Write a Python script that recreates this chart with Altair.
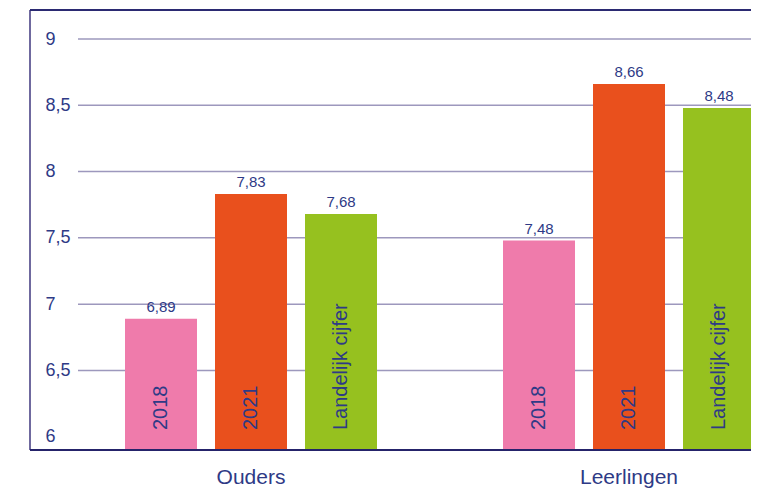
import altair as alt
import pandas as pd

groups = ["Ouders", "Ouders", "Ouders", "Leerlingen", "Leerlingen", "Leerlingen"]
series = ["2018", "2021", "Landelijk cijfer", "2018", "2021", "Landelijk cijfer"]
values = [6.89, 7.83, 7.68, 7.48, 8.66, 8.48]
group_order = ["Ouders", "Leerlingen"]
series_order = ["2018", "2021", "Landelijk cijfer"]
series_colors = ["#ef7bab", "#e9501d", "#96c11f"]
y_ticks = [6, 6.5, 7, 7.5, 8, 8.5, 9]
grid_values = [6.5, 7, 7.5, 8, 8.5, 9]

df = pd.DataFrame({"group": groups, "series": series, "value": values})
grid_df = pd.DataFrame({"g": grid_values})

W, H = 673, 411
NAVY = "#2e3a86"
FONT = "Liberation Sans"

x_enc = alt.X("group:N", sort=group_order,
              scale=alt.Scale(range=[-16, 740], paddingInner=0, paddingOuter=0),
              axis=alt.Axis(title=None, domain=False, ticks=False, labelAngle=0,
                            labelFontSize=21, labelColor=NAVY, labelFont=FONT,
                            labelPadding=16, labelOverlap=False, grid=False))
xo_enc = alt.XOffset("series:N", sort=series_order,
                     scale=alt.Scale(paddingInner=0.2, paddingOuter=0.7))
y_scale = alt.Scale(domain=[5.9, 9], nice=False, zero=False)

base = alt.Chart(df)

grid = alt.Chart(grid_df).mark_rule(color="#9d98bd", strokeWidth=1.5).encode(
    y=alt.Y("g:Q", scale=y_scale),
    x=alt.value(0), x2=alt.value(W),
)

bars = base.mark_bar(clip=True).encode(
    x=x_enc,
    xOffset=xo_enc,
    y=alt.Y("value:Q", scale=y_scale,
            axis=alt.Axis(title=None, values=y_ticks, domain=False, ticks=False, tickSize=0,
                          labelAlign="left", labelPadding=33, labelFontSize=18,
                          labelColor=NAVY, labelFont=FONT,
                          labelExpr="replace(format(datum.value, '~g'), '.', ',')",
                          grid=False)),
    color=alt.Color("series:N", sort=series_order,
                    scale=alt.Scale(domain=series_order, range=series_colors), legend=None),
)

value_labels = base.transform_calculate(
    lbl="replace(format(datum.value, '.2f'), '.', ',')"
).mark_text(baseline="alphabetic", dy=-7, fontSize=15, color=NAVY, font=FONT).encode(
    x=alt.X("group:N", sort=group_order),
    xOffset=xo_enc,
    y=alt.Y("value:Q", scale=y_scale),
    text="lbl:N",
)

series_labels = base.mark_text(angle=270, align="left", baseline="middle",
                               fontSize=20, color=NAVY, font=FONT).encode(
    x=alt.X("group:N", sort=group_order),
    xOffset=xo_enc,
    y=alt.value(H - 20),
    text="series:N",
)

frame_left = base.mark_rule(color="#6f6a9e", strokeWidth=1.5).encode(
    x=alt.value(-48), y=alt.value(-29), y2=alt.value(H))
frame_top = base.mark_rule(color="#2b2a72", strokeWidth=2).encode(
    x=alt.value(-48), x2=alt.value(W), y=alt.value(-29))
frame_bottom = base.mark_rule(color="#25236a", strokeWidth=2).encode(
    x=alt.value(-48), x2=alt.value(W), y=alt.value(H))

chart = alt.layer(grid, bars, value_labels, series_labels, frame_left, frame_top, frame_bottom).properties(
    width=W, height=H,
    autosize=alt.AutoSizeParams(type="none"),
    padding={"left": 70, "top": 31, "right": 0, "bottom": 38},
).configure_view(stroke=None)

chart.save("out.html", embed_options={"renderer": "svg", "actions": False})
